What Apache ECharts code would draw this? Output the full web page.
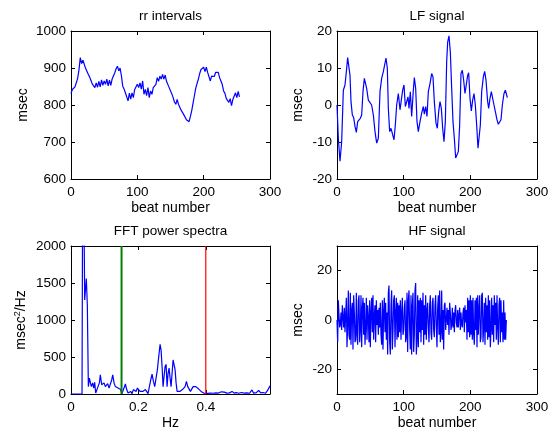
<!DOCTYPE html>
<html>
<head>
<meta charset="utf-8">
<script src="https://cdn.jsdelivr.net/npm/echarts@6/dist/echarts.min.js"></script>
<style>html,body{margin:0;padding:0;background:#fff}#c{width:554px;height:434px}</style>
</head>
<body>
<div id="c"></div>
<script>
// ---- data ----
// rr intervals (msec), every 2nd beat
const rrValues = [831,842,846,849,860,872,895,928,912,921,910,899,902,883,876,867,
857,856,847,860,848,864,849,868,853,865,856,870,852,867,853,870,
875,887,898,905,892,900,879,851,843,833,838,811,832,816,833,820,
842,847,856,847,860,843,865,829,842,825,847,820,838,829,847,847,
856,874,864,878,870,883,870,881,864,860,847,844,830,820,808,802,
815,802,797,786,782,774,772,760,759,755,769,785,805,825,845,858,
870,885,896,896,902,890,902,888,887,865,878,879,877,888,887,888,
874,865,856,838,832,818,815,807,817,798,815,816,833,820,837,822];
const rrBeatStep = 2;

// LF signal
const lfBeats = [0,2,4.5,7,9.5,12,14.5,16,17.5,19.5,21,23,25,27,29,31,33,35,37,39,41,42.5,44.5,47,49.5,52,54.5,57,59.5,62,64.5,67,69.5,71,73.5,75.5,77,79,81,83,85.5,87.5,89.5,92,94.5,96.5,98.5,100.5,102.5,104.5,106.5,108,110,112,114.5,116,118,120,122,124.5,127,129.5,131,133,135,137,139.5,142,144,146,148.5,150.5,152.5,154.5,156.5,158.5,160.5,162.5,164.5,166,168,170,172,174,176,178,180,182,184,186,188,190,192,194,196,197.5,199.5,201.5,203.5,205.5,207.5,209.5,211.5,213,215,217,219.5,221.5,223.5,226,227.5,229.5,231.5,233.5,235.5,238,240,242,244,246,248,250.5,252.5,254.5,255.5];
const lfValues = [0,-9,-15.2,-10,4,5.4,9.9,12.8,12.7,8,0.9,-2.7,-3.4,-5.8,-7.4,-4.5,-4,-3.6,-2.7,3.6,7.2,7.6,4.5,1.3,1.3,0,-2.7,-7.2,-10.3,-9,3.6,7.2,9,9,12.7,9.9,-0.9,-7.2,-6.3,-6.5,-9.4,-5.4,0,3.1,-1.3,-1.8,4,5.4,-0.4,0,2.2,-0.9,3.6,-3.1,4,7.4,4.5,-4.5,-7.2,-4.5,-2.2,-0.4,-2.5,-0.4,-3.1,3.6,5.8,8.5,7.6,0.9,-4.9,-6.3,-1.8,0.9,-0.9,-6.3,-9.9,-4.5,11.7,17,18.7,14.3,4.5,-4.5,-9,-14.3,-14.8,-12.6,-5.4,8.5,9.4,6.7,3.1,2.7,8,8.7,1.8,-1.6,1.3,3.1,0,-5.4,-11.7,-12.1,-5.4,3.6,7.6,9.1,6.7,0.9,-0.9,1.8,3.6,3.1,0,-2.2,-4,-5.2,-5.2,-4,0,3.1,4,2.7,2];

// FFT power spectrum
const fftFreq = [0,0.0327,0.0347,0.0386,0.0406,0.0436,0.0455,0.0485,0.0515,0.0545,0.0574,0.0604,0.0644,0.0673,0.0703,0.0733,0.0762,0.0802,0.0842,0.0871,0.0911,0.0941,0.098,0.102,0.105,0.1089,0.1129,0.1168,0.1208,0.1238,0.1277,0.1317,0.1356,0.1396,0.1436,0.1475,0.1505,0.1535,0.1574,0.1614,0.1653,0.1693,0.1733,0.1772,0.1812,0.1851,0.1891,0.1931,0.197,0.201,0.205,0.2089,0.2129,0.2168,0.2208,0.2248,0.2287,0.2327,0.2366,0.2406,0.2446,0.2485,0.2525,0.2564,0.2604,0.2644,0.2673,0.2703,0.2733,0.2762,0.2792,0.2822,0.2851,0.2881,0.2911,0.2941,0.297,0.3,0.303,0.3059,0.3089,0.3119,0.3149,0.3188,0.3228,0.3267,0.3307,0.3347,0.3386,0.3426,0.3465,0.3505,0.3545,0.3584,0.3624,0.3663,0.3703,0.3743,0.3782,0.3822,0.3861,0.3901,0.394,0.398,0.406,0.414,0.422,0.43,0.438,0.446,0.45,0.455,0.462,0.47,0.478,0.484,0.49,0.498,0.506,0.514,0.522,0.53,0.537,0.542,0.55,0.557,0.563,0.57,0.577,0.583,0.587,0.5906];
const fftPower = [0,0,3000,2400,1270,1250,1560,1200,100,215,190,100,150,80,157,13,13,100,150,260,125,100,150,100,80,140,80,100,190,260,150,100,95,80,80,60,5,35,80,135,60,13,13,35,5,60,80,35,80,100,35,13,35,13,60,35,5,100,190,270,170,100,100,330,505,670,595,370,100,240,370,400,100,280,350,215,100,280,460,470,330,150,35,60,35,60,60,70,100,170,100,80,35,60,100,115,100,80,70,60,35,22,13,5,8,13,10,15,13,30,45,25,12,15,35,12,18,10,20,12,15,10,55,12,18,48,15,20,10,45,20,110];
const lfBandEdge = 0.15;
const hfBandEdge = 0.4;

// HF signal, every beat
const hfValues = [0,-9,8,2,-3,-2,3,-4,6,1,-3,5,-5,2,9,-11,
-2,12,-6,-8,11,-10,4,7,-12,10,3,-9,-8,11,-6,-10,
8,10,-9,-4,10,-11,5,9,-6,7,-10,-3,9,-8,6,1,
-9,8,-11,3,9,-5,10,-8,2,6,-9,8,-2,4,-6,5,
-3,7,-6,-10,8,-12,4,9,-5,7,-8,3,-14,11,14,-9,
-14,6,12,-12,-4,8,10,-11,3,9,-8,7,-7,6,-5,8,
-8,3,9,-6,-4,5,8,-9,-7,11,-13,8,12,-4,-12,10,
-14,6,11,-13,-6,12,15,-14,-8,10,-11,8,-5,9,-9,8,
-4,11,-10,6,-6,10,-8,4,7,-3,-9,6,10,-5,-8,7,
9,-4,-7,6,10,-3,-11,5,10,-6,12,-9,-5,12,-8,4,
-12,6,7,-4,0,5,-2,4,-6,7,3,-4,-2,5,-3,3,
-5,4,6,-1,-3,4,-3,2,5,-4,3,-2,-3,3,5,-5,
6,-1,4,-8,9,-5,8,-7,10,-6,8,-8,9,-6,-10,8,
-4,9,-11,10,-6,5,10,-9,-7,10,11,-9,-3,7,-10,9,
-5,6,-8,10,-7,8,-11,-4,9,-6,6,-9,10,-2,7,-8,
10,-3,-10,6,9,-9,8,-5,3,-9,8,-8,3,-8,0];

// tick values
const beatTicks = [0,100,200,300];
const rrTicks = [600,700,800,900,1000];
const lfTicks = [-20,-10,0,10,20];
const fftXTicks = [0,0.2,0.4];
const fftYTicks = [0,500,1000,1500,2000];
const hfTicks = [-20,0,20];

// ---- chart ----
const FONT = 'Liberation Sans, Arial, Helvetica, sans-serif';
const BLUE = '#0000ff';

const grids = [
  {left:71, top:31, width:199, height:148},
  {left:337, top:31, width:200, height:148},
  {left:71, top:246, width:199, height:148},
  {left:337, top:246, width:200, height:148}
];

const xAxes = [], yAxes = [];
function lineStyle(){ return {color:'#000', width:1}; }
const plain = v => String(v);
function addAxes(g, xr, xt, yr, yt, title, xname, yname, yGap){
  const base = {splitLine:{show:false}, axisLine:{show:true, onZero:false, lineStyle:lineStyle()}};
  xAxes.push(Object.assign({}, base, {
    type:'value', gridIndex:g, position:'bottom', min:xr[0], max:xr[1],
    name:xname, nameLocation:'middle', nameGap:22,
    nameTextStyle:{fontSize:14, color:'#000', fontFamily:FONT},
    axisTick:{show:true, inside:true, length:4, customValues:xt, lineStyle:lineStyle()},
    axisLabel:{show:true, customValues:xt, formatter:plain, margin:6, fontSize:13.5, color:'#000', fontFamily:FONT}
  }));
  xAxes.push(Object.assign({}, base, {
    type:'value', gridIndex:g, position:'top', min:xr[0], max:xr[1],
    name:title, nameLocation:'middle', nameGap:8,
    nameTextStyle:{fontSize:13.5, color:'#000', fontFamily:FONT},
    axisTick:{show:true, inside:true, length:4, customValues:xt, lineStyle:lineStyle()},
    axisLabel:{show:false}
  }));
  yAxes.push(Object.assign({}, base, {
    type:'value', gridIndex:g, position:'left', min:yr[0], max:yr[1],
    name:yname, nameLocation:'middle', nameGap:yGap, nameRotate:90,
    nameTextStyle:{fontSize:14, color:'#000', fontFamily:FONT,
      rich:{sup:{fontSize:9, verticalAlign:'bottom', padding:[0,0,8,0], color:'#000', fontFamily:FONT},
            n:{fontSize:14, color:'#000', fontFamily:FONT}}},
    axisTick:{show:true, inside:true, length:4, customValues:yt, lineStyle:lineStyle()},
    axisLabel:{show:true, customValues:yt, formatter:plain, margin:5, fontSize:13.5, color:'#000', fontFamily:FONT}
  }));
  yAxes.push(Object.assign({}, base, {
    type:'value', gridIndex:g, position:'right', min:yr[0], max:yr[1],
    axisTick:{show:true, inside:true, length:4, customValues:yt, lineStyle:lineStyle()},
    axisLabel:{show:false}
  }));
}
addAxes(0, [0,300], beatTicks, [600,1000], rrTicks, 'rr intervals', 'beat number', 'msec', 41);
addAxes(1, [0,300], beatTicks, [-20,20], lfTicks, 'LF signal', 'beat number', 'msec', 32);
addAxes(2, [0,0.5906], fftXTicks, [0,2000], fftYTicks, 'FFT power spectra', 'Hz', '{n|msec}{sup|2}{n|/Hz}', 41);
addAxes(3, [0,300], beatTicks, [-30,30], hfTicks, 'HF signal', 'beat number', 'msec', 32);

function lineSeries(g, data, color, width){
  return {type:'line', xAxisIndex:g*2, yAxisIndex:g*2, data:data, showSymbol:false,
    symbol:'none', clip:true, animation:false, silent:true,
    lineStyle:{color:color, width:width}};
}

const series = [
  lineSeries(0, rrValues.map((v,i)=>[i*rrBeatStep, v]), BLUE, 1.2),
  lineSeries(1, lfValues.map((v,i)=>[lfBeats[i], v]), BLUE, 1.2),
  lineSeries(2, fftFreq.map((f,i)=>[f, fftPower[i]]), BLUE, 1.2),
  lineSeries(2, [[lfBandEdge,0],[lfBandEdge,2000]], '#008000', 2),
  lineSeries(2, [[hfBandEdge,0],[hfBandEdge,2000]], '#ff0000', 1.2),
  lineSeries(3, hfValues.map((v,i)=>[i, v]), BLUE, 1.2)
];

const chart = echarts.init(document.getElementById('c'), null, {renderer:'canvas'});
chart.setOption({
  backgroundColor:'#fff',
  animation:false,
  grid:grids,
  xAxis:xAxes,
  yAxis:yAxes,
  series:series
});
</script>
</body>
</html>
